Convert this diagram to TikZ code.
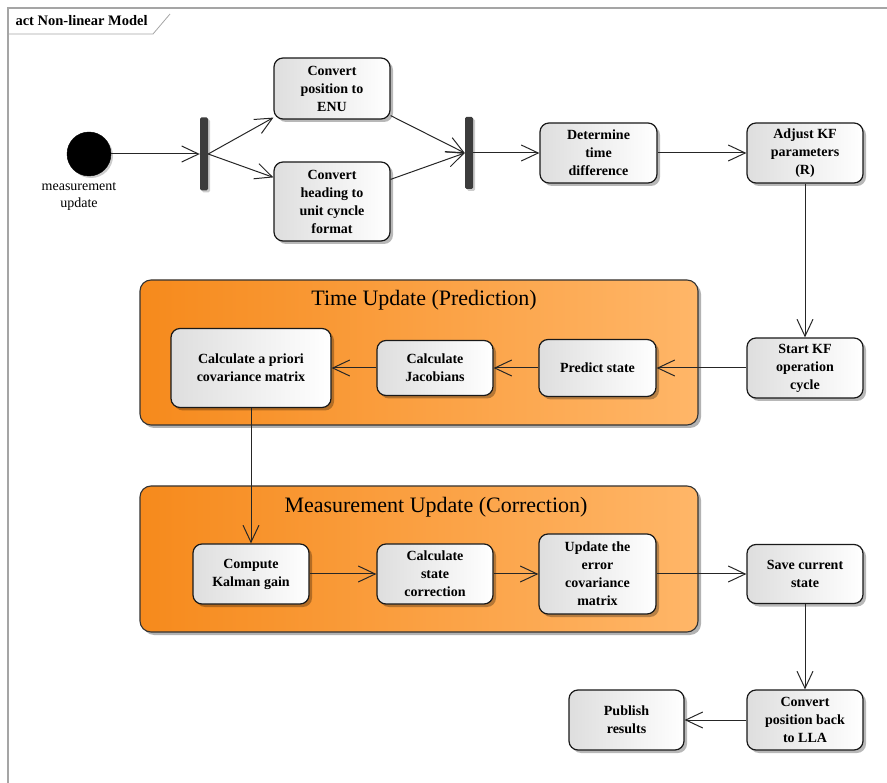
\documentclass[tikz,border=0pt]{standalone}
\usepackage{fontspec}
\setmainfont{Liberation Serif}
\usetikzlibrary{arrows.meta,shadows}

\definecolor{framegray}{RGB}{165,165,165}
\definecolor{boxleft}{RGB}{222,222,222}
\definecolor{orangeL}{RGB}{246,138,28}
\definecolor{orangeR}{RGB}{255,182,104}
\definecolor{barfill}{RGB}{60,60,60}

\begin{document}
\begin{tikzpicture}[x=1pt,y=-1pt,
  action/.style={rectangle, rounded corners=9pt, draw=black!90, line width=1.2pt,
    left color=boxleft, right color=white, align=center, inner sep=2pt,
    font={\fontsize{14pt}{18pt}\selectfont\bfseries},
    drop shadow={shadow xshift=3pt, shadow yshift=-3pt, fill=black, opacity=0.28}},
  region/.style={rectangle, rounded corners=11pt, draw=black!80, line width=1.1pt,
    left color=orangeL, right color=orangeR,
    drop shadow={shadow xshift=3pt, shadow yshift=-3pt, fill=black, opacity=0.3}},
  regiontitle/.style={font={\fontsize{22pt}{25pt}\selectfont}},
  forkbar/.style={rectangle, fill=barfill, minimum width=8pt, minimum height=73pt,
    inner sep=0pt, rounded corners=1.5pt,
    drop shadow={shadow xshift=2pt, shadow yshift=-2pt, fill=black, opacity=0.2}},
  flow/.style={-{Straight Barb[length=17pt,width=16pt,line width=1pt]}, line width=1pt, draw=black!85}
]
\useasboundingbox (0,0) rectangle (887,783);

% diagram frame with its name tab
\draw[framegray, line width=2pt] (8,783) -- (8,8) -- (887,8);
\draw[framegray, line width=0.8pt] (8,34) -- (153,34) -- (170,14);
\node[anchor=west, font={\fontsize{14.5pt}{16pt}\selectfont\bfseries}] (frametitle) at (12,21) {act Non-linear Model};

% grouping regions
\node[region, minimum width=558pt, minimum height=145pt] (timereg) at (419,352.5) {};
\node[regiontitle] (timetitle) at (424,300) {Time Update (Prediction)};
\node[region, minimum width=558pt, minimum height=146pt] (measreg) at (419,559) {};
\node[regiontitle] (meastitle) at (436,507) {Measurement Update (Correction)};

% initial node
\node[circle, fill=black, draw=black, minimum size=44pt, inner sep=0pt,
  drop shadow={shadow xshift=2pt, shadow yshift=-2pt, fill=black, opacity=0.2}] (init) at (89,154) {};
\node[align=center, font={\fontsize{14pt}{17pt}\selectfont}] (initlabel) at (79,197) {measurement\\update};

% fork and join bars
\node[forkbar] (fork1) at (204,154) {};
\node[forkbar, minimum height=72pt] (fork2) at (469,153) {};

% actions
\node[action, minimum width=116pt, minimum height=61pt] (enu) at (332,88.5) {Convert\\position to\\ENU};
\node[action, minimum width=116pt, minimum height=79pt] (heading) at (332,201.5) {Convert\\heading to\\unit cyncle\\format};
\node[action, minimum width=117pt, minimum height=60pt] (timediff) at (598.5,153) {Determine\\time\\difference};
\node[action, minimum width=116pt, minimum height=60pt] (adjust) at (805,153) {Adjust KF\\parameters\\(R)};
\node[action, minimum width=116pt, minimum height=60pt] (startkf) at (805,368) {Start KF\\operation\\cycle};
\node[action, minimum width=117pt, minimum height=57pt] (predict) at (597.5,368) {Predict state};
\node[action, minimum width=116pt, minimum height=55pt] (jacob) at (435,368) {Calculate\\Jacobians};
\node[action, minimum width=160pt, minimum height=79pt] (apriori) at (251,368) {Calculate a priori\\covariance matrix};
\node[action, minimum width=116pt, minimum height=60pt] (kalman) at (251,574) {Compute\\Kalman gain};
\node[action, minimum width=116pt, minimum height=60pt] (statecorr) at (435,574) {Calculate\\state\\correction};
\node[action, minimum width=117pt, minimum height=80pt] (updcov) at (597.5,574) {Update the\\error\\covariance\\matrix};
\node[action, minimum width=116pt, minimum height=59pt] (save) at (805,574) {Save current\\state};
\node[action, minimum width=116pt, minimum height=60pt] (convback) at (805,720) {Convert\\position back\\to LLA};
\node[action, minimum width=115pt, minimum height=60pt] (publish) at (626.5,720) {Publish\\results};

% control flow
\draw[flow] (init) -- (fork1);
\draw[flow] (fork1.east) -- ([yshift=2pt]enu.south west);
\draw[flow] (fork1.east) -- ([yshift=-16pt]heading.north west);
\draw[flow] ([yshift=4pt]enu.south east) -- (fork2.west);
\draw[flow] ([yshift=-18pt]heading.north east) -- (fork2.west);
\draw[flow] (fork2.east) -- (timediff.west);
\draw[flow] (timediff) -- (adjust);
\draw[flow] (adjust) -- (startkf);
\draw[flow] (startkf) -- (predict);
\draw[flow] (predict) -- (jacob);
\draw[flow] (jacob) -- (apriori);
\draw[flow] (apriori) -- (kalman);
\draw[flow] (kalman) -- (statecorr);
\draw[flow] (statecorr) -- (updcov);
\draw[flow] (updcov) -- (save);
\draw[flow] (save) -- (convback);
\draw[flow] (convback) -- (publish);
\end{tikzpicture}
\end{document}
